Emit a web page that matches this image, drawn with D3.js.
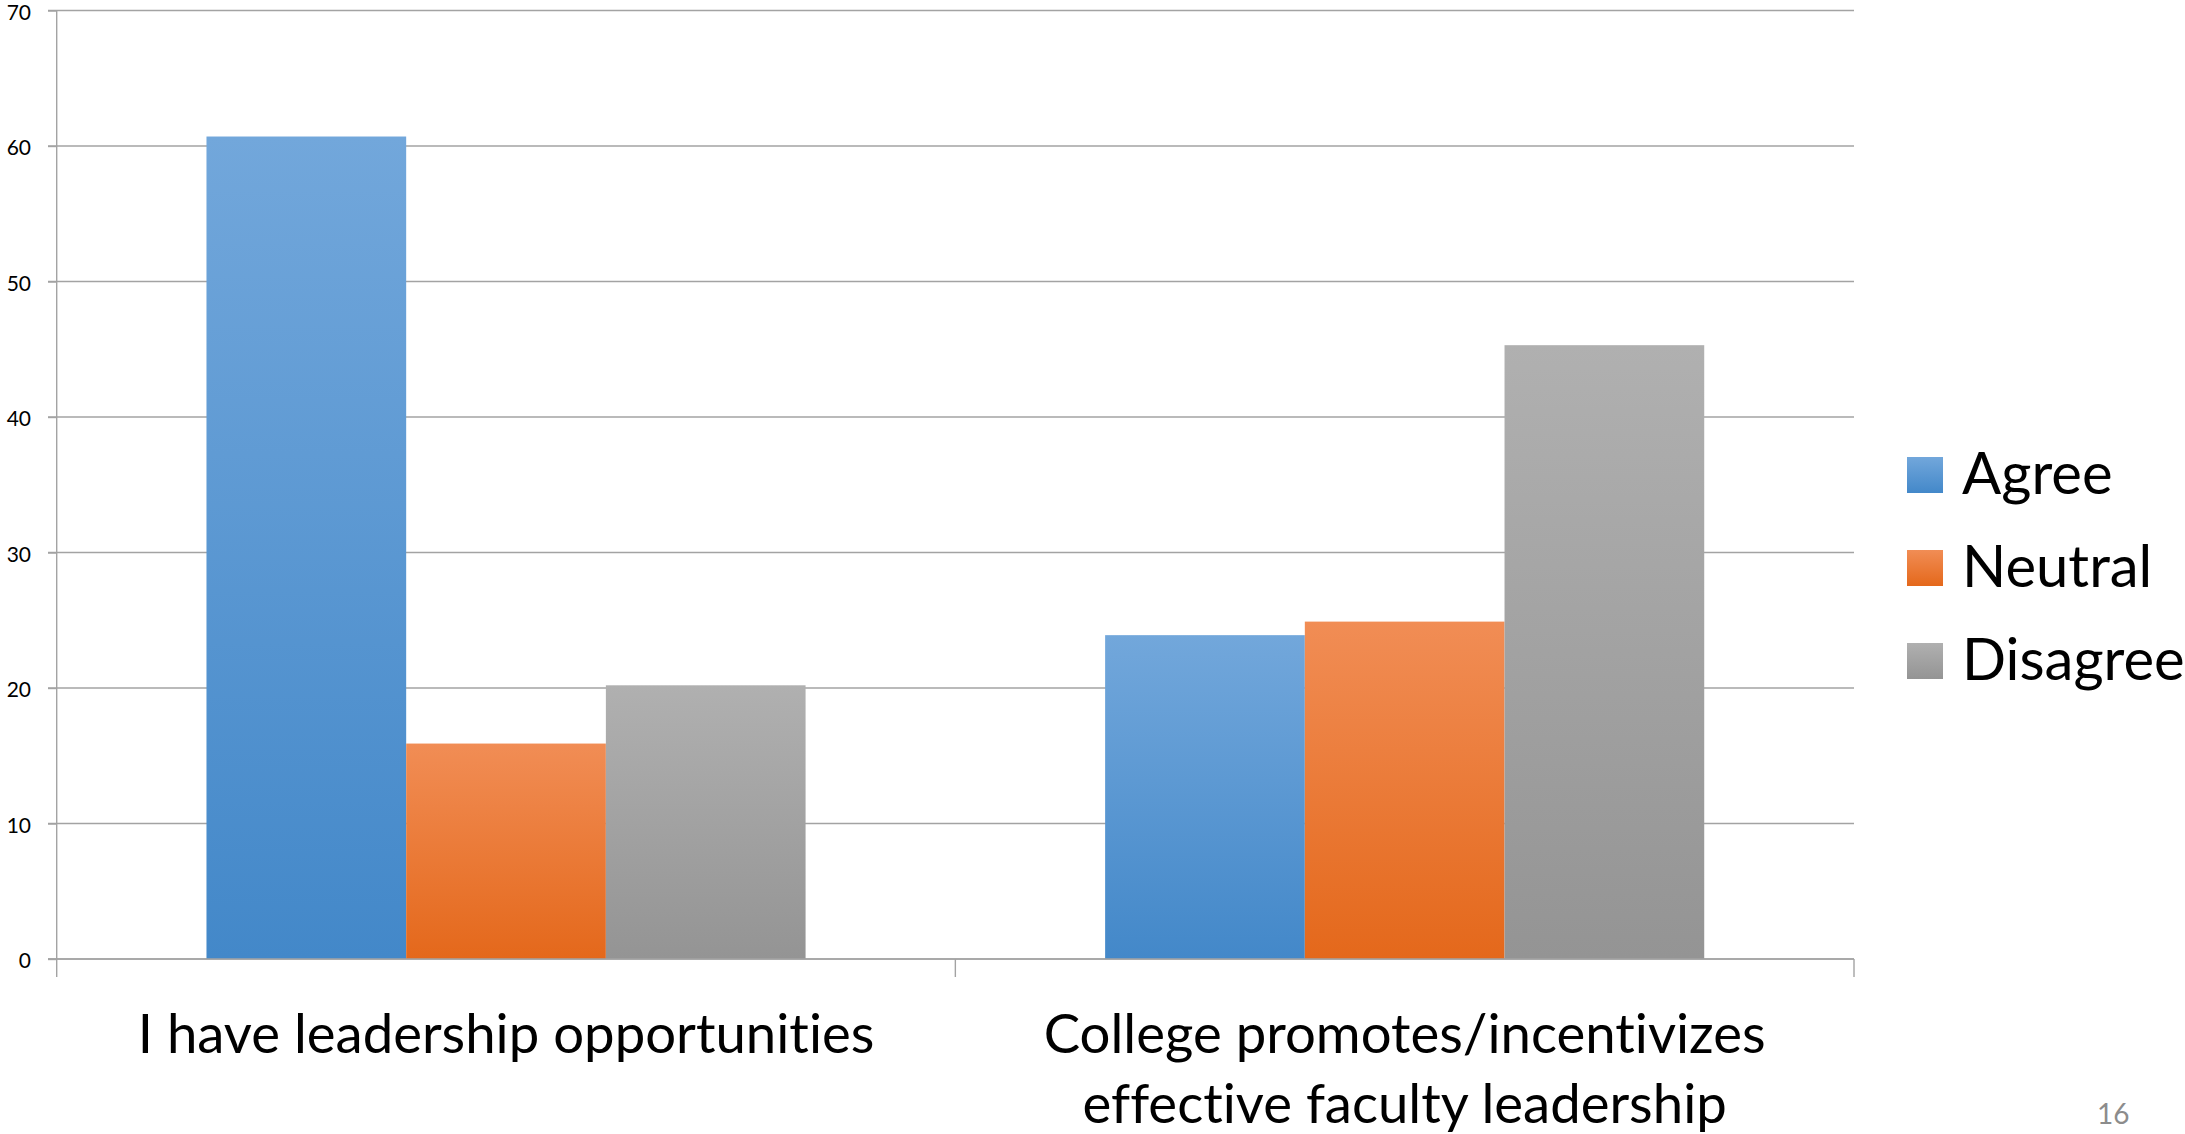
<!DOCTYPE html>
<html>
<head>
<meta charset="utf-8">
<script src="https://cdn.jsdelivr.net/npm/d3@7"></script>
<style>
  html, body { margin: 0; padding: 0; background: #fff; }
  svg { display: block; font-family: Lato, "Open Sans", sans-serif; font-variant-ligatures: none; font-feature-settings: "liga" 0, "clig" 0; }
</style>
</head>
<body>
<svg id="chart" width="2185" height="1134"></svg>
<script>
// Survey responses (% of faculty) per statement
const categories = [
  ["I have leadership opportunities"],
  ["College promotes/incentivizes", "effective faculty leadership"]
];
const seriesNames = ["Agree", "Neutral", "Disagree"];
const agreeValues = [60.7, 23.9];
const neutralValues = [15.9, 24.9];
const disagreeValues = [20.2, 45.3];
const yTickValues = [0, 10, 20, 30, 40, 50, 60, 70];
const pageNumber = "16";

// Vertical gradient stops (top, bottom) for each response
const seriesColors = {
  Agree: ["#72a7db", "#4388c9"],
  Neutral: ["#f18d55", "#e4681b"],
  Disagree: ["#b0b0b0", "#949494"]
};

const seriesValues = { Agree: agreeValues, Neutral: neutralValues, Disagree: disagreeValues };

const svg = d3.select("#chart");
const plot = { left: 56.7, right: 1854, top: 10.5, bottom: 959 };

const x0 = d3.scaleBand()
  .domain(d3.range(categories.length))
  .range([plot.left, plot.right])
  .padding(0);

const x1 = d3.scaleBand()
  .domain(seriesNames)
  .range([0, x0.bandwidth()])
  .paddingInner(0)
  .paddingOuter(0.75);

const y = d3.scaleLinear().domain([0, 70]).range([plot.bottom, plot.top]);

// Gradients
const defs = svg.append("defs");
seriesNames.forEach(name => {
  const g = defs.append("linearGradient")
    .attr("id", "grad-" + name)
    .attr("x1", 0).attr("y1", 0).attr("x2", 0).attr("y2", 1);
  g.append("stop").attr("offset", "0%").attr("stop-color", seriesColors[name][0]);
  g.append("stop").attr("offset", "100%").attr("stop-color", seriesColors[name][1]);
});

const gridColor = "#a3a3a3";

// Horizontal gridlines
svg.append("g")
  .selectAll("line")
  .data(yTickValues)
  .join("line")
  .attr("x1", plot.left - 8.7)
  .attr("x2", plot.right)
  .attr("y1", d => y(d))
  .attr("y2", d => y(d))
  .attr("stroke", gridColor)
  .attr("stroke-width", 1.4);

// Y axis
const yAxis = svg.append("g")
  .attr("transform", `translate(${plot.left},0)`)
  .call(d3.axisLeft(y).tickValues(yTickValues).tickSize(8.7).tickPadding(17));
yAxis.select(".domain").remove();
yAxis.selectAll(".tick line").attr("stroke", gridColor).attr("stroke-width", 1.4);
yAxis.selectAll(".tick text")
  .attr("fill", "#000")
  .attr("dy", "0.41em")
  .style("font-size", "21px")
  .style("font-family", "Lato, sans-serif");

// Left axis line extending below zero
svg.append("line")
  .attr("x1", plot.left).attr("x2", plot.left)
  .attr("y1", plot.top).attr("y2", plot.bottom + 18)
  .attr("stroke", gridColor).attr("stroke-width", 1.4);

// Category separators on the x axis
const sepX = d3.range(categories.length + 1).map(i =>
  i < categories.length ? x0(i) : x0(categories.length - 1) + x0.bandwidth());
svg.append("g")
  .selectAll("line")
  .data(sepX.slice(1))
  .join("line")
  .attr("x1", d => d).attr("x2", d => d)
  .attr("y1", plot.bottom).attr("y2", plot.bottom + 18)
  .attr("stroke", gridColor).attr("stroke-width", 1.4);

// Bars
const groups = svg.append("g")
  .selectAll("g")
  .data(categories.map((c, i) => i))
  .join("g")
  .attr("transform", i => `translate(${x0(i)},0)`);

groups.selectAll("rect")
  .data(i => seriesNames.map(name => ({ name, value: seriesValues[name][i] })))
  .join("rect")
  .attr("x", d => x1(d.name))
  .attr("width", x1.bandwidth())
  .attr("y", d => y(d.value))
  .attr("height", d => y(0) - y(d.value))
  .attr("fill", d => `url(#grad-${d.name})`);

// Zero line drawn over bars
svg.append("line")
  .attr("x1", plot.left - 8.7).attr("x2", plot.right)
  .attr("y1", y(0)).attr("y2", y(0))
  .attr("stroke", gridColor).attr("stroke-width", 1.4);

// Category labels
const catLabels = svg.append("g")
  .selectAll("text")
  .data(categories)
  .join("text")
  .attr("x", (d, i) => x0(i) + x0.bandwidth() / 2)
  .attr("y", 1053)
  .attr("text-anchor", "middle")
  .attr("fill", "#000")
  .style("font-size", "54.5px");
catLabels.selectAll("tspan")
  .data(d => d)
  .join("tspan")
  .attr("x", function () { return d3.select(this.parentNode).attr("x"); })
  .attr("dy", (d, i) => i === 0 ? 0 : 70)
  .text(d => d);

// Legend
const legend = svg.append("g")
  .selectAll("g")
  .data(seriesNames)
  .join("g")
  .attr("transform", (d, i) => `translate(1907,${457 + i * 93})`);
legend.append("rect")
  .attr("width", 36).attr("height", 36)
  .attr("fill", d => `url(#grad-${d})`);
legend.append("text")
  .attr("x", 55)
  .attr("y", 37)
  .attr("fill", "#000")
  .style("font-size", "58px")
  .text(d => d);

// Slide number
svg.append("text")
  .attr("x", 2097).attr("y", 1124)
  .attr("fill", "#8c8c8c")
  .style("font-size", "28px")
  .text(pageNumber);
</script>
</body>
</html>
